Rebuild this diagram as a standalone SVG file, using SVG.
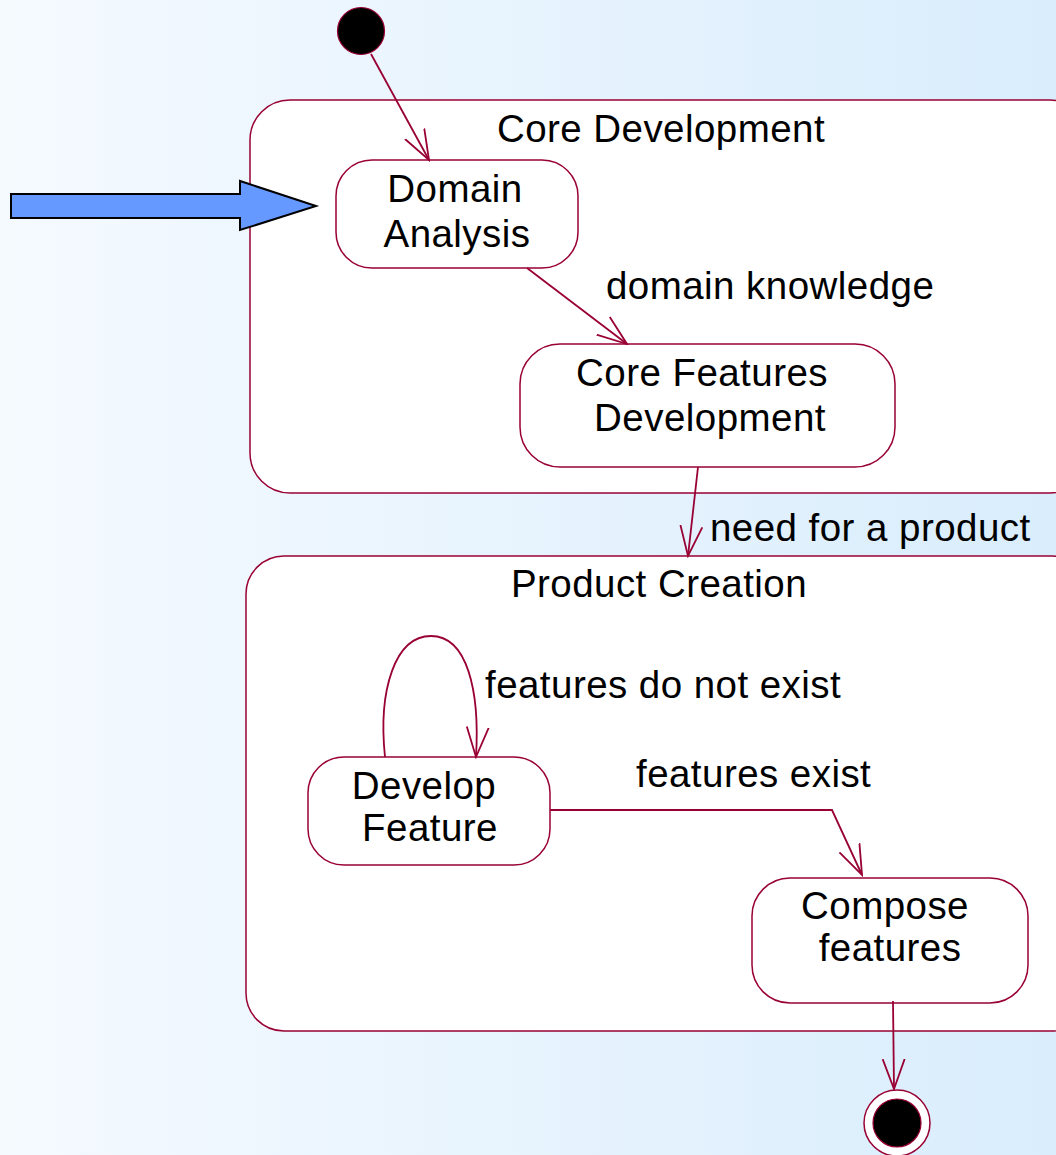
<svg xmlns="http://www.w3.org/2000/svg" width="1056" height="1155" viewBox="0 0 1056 1155">
  <defs>
    <linearGradient id="bg" x1="0" y1="0" x2="1" y2="0">
      <stop offset="0" stop-color="#f5faff"/>
      <stop offset="1" stop-color="#d9edfc"/>
    </linearGradient>
    <marker id="vee" viewBox="0 0 32 32" refX="30" refY="16" markerWidth="32" markerHeight="32" markerUnits="userSpaceOnUse" orient="auto">
      <path d="M0,5 L30,16 L0,27" fill="none" stroke="#990033" stroke-width="1.8"/>
    </marker>
  </defs>
  <style>
    .state { fill: #ffffff; stroke: #990033; stroke-width: 1.5; }
    .edge { fill: none; stroke: #990033; stroke-width: 1.8; marker-end: url(#vee); }
    text { font-family: "Liberation Sans", Arial, sans-serif; font-size: 38.5px; letter-spacing: 0.45px; fill: #000000; }
    .c { text-anchor: middle; }
  </style>

  <rect x="0" y="0" width="1056" height="1155" fill="url(#bg)"/>

  <!-- composite states -->
  <g id="core-development">
    <rect class="state" x="250" y="100" width="840" height="393" rx="40" ry="40"/>
    <text class="c" x="661" y="142">Core Development</text>
  </g>
  <g id="product-creation">
    <rect class="state" x="246" y="556" width="844" height="475" rx="38" ry="38"/>
    <text class="c" x="659" y="597">Product Creation</text>
  </g>

  <!-- initial and final pseudostates -->
  <g id="initial">
    <circle cx="361" cy="31" r="23.5" fill="#000000" stroke="#990033" stroke-width="1.2"/>
  </g>
  <g id="final">
    <circle cx="897" cy="1123" r="33" fill="#ffffff" stroke="#990033" stroke-width="1.5"/>
    <circle cx="897" cy="1123" r="24" fill="#000000" stroke="#990033" stroke-width="1.2"/>
  </g>

  <!-- simple states -->
  <g id="domain-analysis">
    <rect class="state" x="336" y="160" width="242" height="108" rx="36" ry="36"/>
    <text class="c" x="455" y="202">Domain</text>
    <text class="c" x="457" y="247">Analysis</text>
  </g>
  <g id="core-features-development">
    <rect class="state" x="520" y="344" width="375" height="123" rx="40" ry="40"/>
    <text class="c" x="702" y="386">Core Features</text>
    <text class="c" x="710" y="431">Development</text>
  </g>
  <g id="develop-feature">
    <rect class="state" x="308" y="757" width="242" height="108" rx="36" ry="36"/>
    <text class="c" x="424" y="799">Develop</text>
    <text class="c" x="430" y="841">Feature</text>
  </g>
  <g id="compose-features">
    <rect class="state" x="752" y="878" width="276" height="125" rx="38" ry="38"/>
    <text class="c" x="885" y="919">Compose</text>
    <text class="c" x="890" y="961">features</text>
  </g>

  <!-- transitions -->
  <g id="connectors">
    <path class="edge" d="M371,54 L429,160"/>
    <path class="edge" d="M527,268 L627,344"/>
    <path class="edge" d="M698,467 L688,556"/>
    <path class="edge" d="M385,757 C378,690 395,636 431,636 C467,636 480,690 476,757"/>
    <path class="edge" d="M550,810 L832,810 L862,875"/>
    <path class="edge" d="M893,1001 L894,1089"/>
  </g>

  <!-- transition labels -->
  <g id="labels">
    <text x="606" y="299">domain knowledge</text>
    <text x="710" y="541">need for a product</text>
    <text x="485" y="698">features do not exist</text>
    <text x="636" y="787">features exist</text>
  </g>

  <!-- block arrow pointing at the first activity -->
  <g id="pointer">
    <path d="M11,194 L240,194 L240,181 L316,206 L240,230 L240,218 L11,218 Z" fill="#6699ff" stroke="#000000" stroke-width="2"/>
  </g>
</svg>
